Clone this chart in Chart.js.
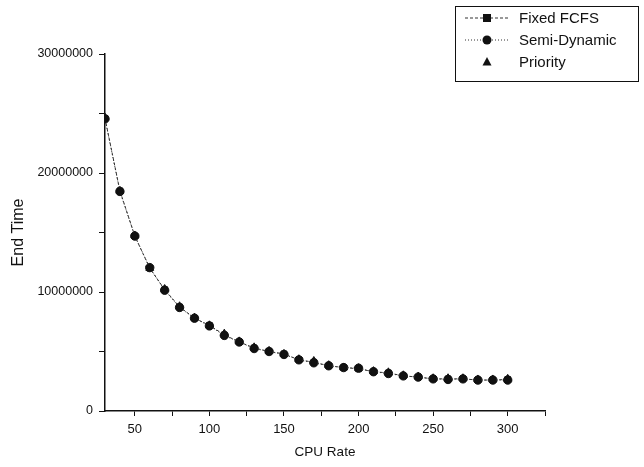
<!DOCTYPE html>
<html>
<head>
<meta charset="utf-8">
<script src="https://cdn.jsdelivr.net/npm/chart.js@4"></script>
<style>
  body { margin: 0; background: #fff; }
  #wrap { width: 644px; height: 467px; position: relative; }
</style>
</head>
<body>
<div id="wrap"><canvas id="chart" width="644" height="467"></canvas></div>
<script>
// data
const cpuRate = [30, 40, 50, 60, 70, 80, 90, 100, 110, 120, 130, 140, 150, 160, 170,
                 180, 190, 200, 210, 220, 230, 240, 250, 260, 270, 280, 290, 300];
const fixedFcfs = [24600000, 18500000, 14700000, 12000000, 10200000, 8750000, 7800000,
                   7200000, 6400000, 5800000, 5300000, 5000000, 4800000, 4300000, 4100000,
                   3800000, 3650000, 3550000, 3300000, 3200000, 2950000, 2850000, 2700000,
                   2700000, 2700000, 2600000, 2600000, 2650000];
const semiDynamic = [24550000, 18450000, 14700000, 12050000, 10150000, 8700000, 7800000,
                     7150000, 6350000, 5800000, 5250000, 5000000, 4750000, 4300000, 4050000,
                     3800000, 3650000, 3600000, 3300000, 3150000, 2950000, 2850000, 2700000,
                     2650000, 2700000, 2600000, 2600000, 2600000];
const priority = [24650000, 18500000, 14750000, 12000000, 10250000, 8800000, 7850000,
                  7200000, 6500000, 5850000, 5350000, 5050000, 4800000, 4350000, 4200000,
                  3850000, 3650000, 3600000, 3350000, 3250000, 3000000, 2900000, 2750000,
                  2750000, 2750000, 2650000, 2650000, 2700000];

const xTicks = [50, 75, 100, 125, 150, 175, 200, 225, 250, 275, 300, 325];
const yTicks = [0, 5000000, 10000000, 15000000, 20000000, 25000000, 30000000];

const ink = '#111';
const font = 'Liberation Sans, Arial, sans-serif';

function pts(ys) {
    return cpuRate.map((x, i) => ({ x: x, y: ys[i] }));
}

// draws the boxed legend in the top right corner
const boxLegend = {
    id: 'boxLegend',
    afterDraw(chart) {
        const ctx = chart.ctx;
        const x0 = 455, y0 = 6, w = 183, h = 75;
        ctx.save();
        ctx.strokeStyle = ink;
        ctx.lineWidth = 1;
        ctx.strokeRect(x0 + 0.5, y0 + 0.5, w, h);
        const rows = [
            { text: 'Fixed FCFS', dash: [3, 2], shape: 'square', y: y0 + 12 },
            { text: 'Semi-Dynamic', dash: [1, 2], shape: 'circle', y: y0 + 34 },
            { text: 'Priority', dash: null, shape: 'tri', y: y0 + 56 }
        ];
        rows.forEach(r => {
            const mx = x0 + 32;
            if (r.dash) {
                ctx.setLineDash(r.dash);
                ctx.strokeStyle = '#333';
                ctx.beginPath();
                ctx.moveTo(x0 + 10, r.y);
                ctx.lineTo(x0 + 55, r.y);
                ctx.stroke();
                ctx.setLineDash([]);
            }
            ctx.fillStyle = ink;
            ctx.beginPath();
            if (r.shape === 'square') {
                ctx.rect(mx - 4, r.y - 4, 8, 8);
            } else if (r.shape === 'circle') {
                ctx.arc(mx, r.y, 4.5, 0, Math.PI * 2);
            } else {
                ctx.moveTo(mx, r.y - 5);
                ctx.lineTo(mx + 4.5, r.y + 3.5);
                ctx.lineTo(mx - 4.5, r.y + 3.5);
                ctx.closePath();
            }
            ctx.fill();
            ctx.font = '15px ' + font;
            ctx.textBaseline = 'middle';
            ctx.fillText(r.text, x0 + 64, r.y + 1);
        });
        ctx.restore();
    }
};

new Chart(document.getElementById('chart'), {
    type: 'line',
    data: {
        datasets: [{
            label: 'Fixed FCFS',
            data: pts(fixedFcfs),
            borderColor: '#333',
            borderWidth: 1,
            borderDash: [3, 2],
            pointStyle: 'rect',
            pointRadius: 4,
            backgroundColor: ink,
            pointBorderColor: ink
        }, {
            label: 'Semi-Dynamic',
            data: pts(semiDynamic),
            borderColor: '#333',
            borderWidth: 1,
            borderDash: [1, 2],
            pointStyle: 'circle',
            pointRadius: 4.2,
            backgroundColor: ink,
            pointBorderColor: ink
        }, {
            label: 'Priority',
            data: pts(priority),
            showLine: false,
            pointStyle: 'triangle',
            pointRadius: 4.5,
            backgroundColor: ink,
            pointBorderColor: ink
        }]
    },
    options: {
        responsive: false,
        animation: false,
        devicePixelRatio: 1,
        layout: { padding: { top: 54, right: 99, left: 0, bottom: 0 } },
        plugins: {
            legend: { display: false },
            tooltip: { enabled: false }
        },
        scales: {
            x: {
                type: 'linear',
                min: 30,
                max: 325,
                afterBuildTicks: s => { s.ticks = xTicks.map(v => ({ value: v })); },
                afterFit: s => { s.height = 56; },
                border: { color: ink, width: 1.5 },
                grid: { drawOnChartArea: false, drawTicks: true, tickLength: 5, tickColor: ink },
                ticks: {
                    color: ink,
                    padding: 6,
                    maxRotation: 0,
                    autoSkip: false,
                    font: { family: font, size: 13 },
                    callback: v => (v % 50 === 0 ? v : '')
                },
                title: {
                    display: true,
                    text: 'CPU Rate',
                    color: ink,
                    font: { family: font, size: 13.5 },
                    padding: { top: 0, bottom: 7 }
                }
            },
            y: {
                min: 0,
                max: 30000000,
                afterBuildTicks: s => { s.ticks = yTicks.map(v => ({ value: v })); },
                afterFit: s => { s.width = 105; },
                border: { color: ink, width: 1.5 },
                grid: { drawOnChartArea: false, drawTicks: true, tickLength: 6, tickColor: ink },
                ticks: {
                    color: ink,
                    padding: 6,
                    autoSkip: false,
                    font: { family: font, size: 12.5 },
                    callback: v => (v % 10000000 === 0 ? String(v) : '')
                },
                title: {
                    display: true,
                    text: 'End Time',
                    color: ink,
                    font: { family: font, size: 16 },
                    padding: { top: 9, bottom: 0 }
                }
            }
        }
    },
    plugins: [boxLegend]
});
</script>
</body>
</html>
